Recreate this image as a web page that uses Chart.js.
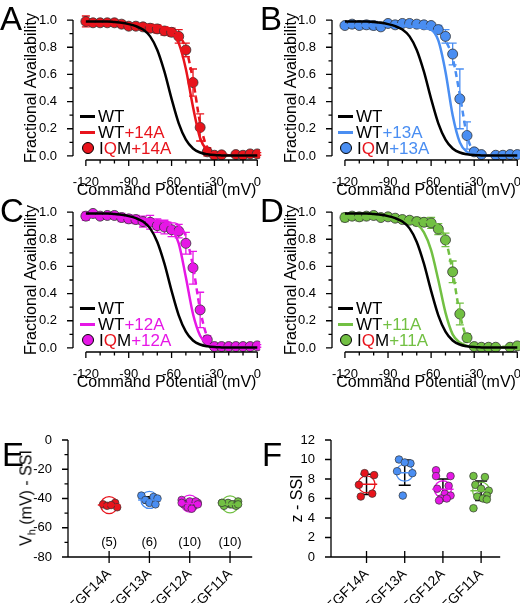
<!DOCTYPE html>
<html><head><meta charset="utf-8">
<script src="https://cdn.jsdelivr.net/npm/chart.js@4"></script>
<style>
body{margin:0;background:#fff;width:520px;height:603px;position:relative;overflow:hidden;font-family:"Liberation Sans",Arial,sans-serif}
canvas{position:absolute}
.lab{position:absolute;font-size:33px;line-height:33px;color:#000}
.leg{position:absolute;font-size:17px;line-height:17px;white-space:nowrap}
.ln{display:inline-block;width:15px;height:3px;vertical-align:middle;margin-right:3px;margin-top:-3px}
.dot{display:inline-block;width:10px;height:10px;border-radius:50%;border:1px solid #000;vertical-align:middle;margin:-3px 5px 0 0}
</style></head><body>
<script>
// ---------- data ----------
const V = [-120,-115,-110,-105,-100,-95,-90,-85,-80,-75,-70,-65,-60,-55,-50,-45,-40,-35,-30,-25,-20,-15,-10,-5,0];
const xTickLabels = [-120,-90,-60,-30,0];
const yTickLabels = [0,0.2,0.4,0.6,0.8,1.0];
const wtFit = [.99,.99,.99,.99,.985,.98,.97,.955,.93,.88,.78,.62,.42,.24,.12,.055,.025,.012,.006,.004,.003,.003,.003,.003,.003];

const fit14 = [.97,.97,.97,.97,.97,.97,.97,.97,.965,.96,.955,.94,.91,.83,.64,.36,.13,.04,.012,.006,.005,.005,.005,.005,.005];
const iqm14Fit = [.98,.98,.98,.98,.975,.975,.97,.97,.965,.96,.955,.95,.93,.89,.79,.56,.24,.06,.015,.007,.006,.006,.006,.006,.006];
const iqm14 = [.99,.98,.98,.98,.98,.97,.955,.955,.95,.94,.935,.92,.91,.88,.78,.54,.21,.03,.005,.008,null,.01,.005,.015,.015];
const iqm14Err = [.04,.02,.02,.02,.02,.02,.02,.02,.02,.03,.03,.03,.03,.05,.05,.1,.1,.03,.01,.01,null,.01,.01,.01,.01];

const fit13 = [.96,.96,.96,.96,.96,.96,.96,.96,.96,.955,.95,.94,.93,.85,.62,.3,.1,.03,.01,.005,.004,.004,.004,.004,.004];
const iqm13Fit = [.96,.96,.96,.96,.965,.965,.97,.97,.97,.97,.965,.96,.955,.93,.85,.72,.45,.15,.03,.01,.006,.006,.006,.006,.006];
const iqm13 = [.96,.97,.96,.965,.96,.95,.975,.965,.975,.975,.97,.965,.96,.93,.88,.75,.42,.15,.03,.01,null,.005,.005,.01,.01];
const iqm13Err = [.02,.02,.02,.03,.03,.02,.02,.02,.02,.02,.02,.02,.02,.03,.05,.08,.22,.1,.02,.01,null,.01,.01,.01,.01];

const fit12 = [.97,.97,.97,.97,.965,.96,.955,.95,.945,.94,.935,.93,.88,.77,.52,.25,.09,.03,.01,.005,.004,.004,.004,.004,.004];
const iqm12Fit = [.97,.97,.97,.97,.97,.965,.96,.955,.95,.945,.94,.93,.92,.9,.82,.6,.28,.08,.02,.01,.008,.008,.008,.008,.008];
const iqm12 = [.97,.99,.97,.975,.975,.96,.95,.945,.93,.925,.90,.89,.87,.86,.77,.59,.28,.06,.01,.01,.01,.01,.01,.01,.015];
const iqm12Err = [.03,.02,.02,.02,.02,.03,.03,.03,.04,.05,.05,.05,.05,.05,.08,.12,.13,.03,.01,.01,.01,.01,.01,.01,.01];

const fit11 = [.96,.96,.96,.96,.96,.955,.95,.945,.935,.925,.91,.85,.72,.5,.26,.1,.04,.015,.006,.004,.004,.004,.004,.004,.004];
const iqm11Fit = [.97,.97,.97,.97,.97,.965,.96,.955,.95,.945,.94,.93,.92,.9,.8,.56,.25,.07,.02,.01,.008,.008,.008,.008,.008];
const iqm11 = [.96,.97,.965,.97,.975,.96,.965,.955,.945,.94,.93,.925,.92,.875,.795,.56,.25,.075,.01,.005,.005,.005,null,.005,.015];
const iqm11Err = [.03,.02,.03,.02,.02,.02,.02,.02,.02,.02,.03,.03,.04,.04,.05,.08,.08,.03,.01,.01,.01,.01,null,.01,.01];

const groups = ["+FGF14A","+FGF13A","+FGF12A","+FGF11A"];
const groupColors = ["#e8141c","#4a8ef2","#e617e6","#72c043"];
const vhVals = [[-44,-43,-45,-46,-44.5],[-38,-39,-40,-41,-43,-44],[-41,-42,-43,-44,-45,-46,-47,-42,-43,-44],[-43,-44,-42,-45,-44,-43,-44,-45,-43,-44]];
const vhJit = [[-.15,.15,-.05,.2,.05],[-.2,.1,.2,-.1,0,.15],[-.2,0,.2,-.15,.1,-.05,.05,.15,-.2,.2],[-.2,0,.2,-.15,.1,-.05,.05,.15,-.2,.2]];
const vhMean = [-44.5,-41,-43.5,-44];
const vhSD = [1.2,2.2,2.0,1.0];
const zVals = [[8.6,8.4,7.4,6.5,6.2],[10.0,9.6,9.7,8.8,8.6,6.3],[8.9,8.3,8.3,7.3,7.0,6.5,6.3,6.0,6.0,5.8],[8.3,8.2,7.4,7.0,6.8,6.3,6.2,6.0,5.9,5.0]];
const zJit = [[-.05,.2,-.2,.15,-.15],[-.15,.15,0,-.2,.2,-.05],[-.18,-.18,.2,.15,-.15,.05,.2,-.05,.1,-.1],[-.2,.1,-.15,0,.2,.15,-.1,.05,.15,-.2]];
const zMean = [7.45,8.65,6.95,6.8];
const zSD = [1.05,1.3,1.05,1.0];

// ---------- helpers ----------
const FONT = "'Liberation Sans', Arial, sans-serif";
Chart.defaults.font.family = FONT;
Chart.defaults.color = "#000";
Chart.defaults.animation = false;

const errPlugin = {id:'err', beforeDatasetsDraw(ch){
  const c=ch.ctx;
  ch.data.datasets.forEach((ds,di)=>{
    if(!ds.errors) return;
    ds.data.forEach((p,i)=>{
      const e=ds.errors[i]; if(e==null||p==null) return;
      const x=ch.scales.x.getPixelForValue(p.x);
      const y1=ch.scales.y.getPixelForValue(p.y+e), y2=ch.scales.y.getPixelForValue(p.y-e);
      c.save(); c.strokeStyle=ds.errColor||ds.backgroundColor; c.lineWidth=ds.errWidth||1.3;
      const w=ds.capW||4;
      c.beginPath(); c.moveTo(x,y1); c.lineTo(x,y2);
      c.moveTo(x-w,y1); c.lineTo(x+w,y1); c.moveTo(x-w,y2); c.lineTo(x+w,y2); c.stroke(); c.restore();
    });
  });
}};
const axesPlugin = {id:'axes', afterDraw(ch, args, o){
  const c=ch.ctx, xs=ch.scales.x, ys=ch.scales.y, a=ch.chartArea;
  c.save(); c.strokeStyle="#000"; c.lineWidth=1.3;
  c.beginPath();
  const x0=xs.getPixelForValue(o.xr[0]), x1=xs.getPixelForValue(o.xr[1]);
  c.moveTo(x0,a.bottom); c.lineTo(x1,a.bottom);
  (o.xMaj||[]).forEach(v=>{const p=xs.getPixelForValue(v); c.moveTo(p,a.bottom+(o.xUp||0)); c.lineTo(p,a.bottom+6);});
  (o.xMin||[]).forEach(v=>{const p=xs.getPixelForValue(v); c.moveTo(p,a.bottom); c.lineTo(p,a.bottom+3.5);});
  const y0=ys.getPixelForValue(o.yr[0]), y1=ys.getPixelForValue(o.yr[1]);
  c.moveTo(a.left,y0); c.lineTo(a.left,y1);
  (o.yMaj||[]).forEach(v=>{const p=ys.getPixelForValue(v); c.moveTo(a.left,p); c.lineTo(a.left-6,p);});
  (o.yMin||[]).forEach(v=>{const p=ys.getPixelForValue(v); c.moveTo(a.left,p); c.lineTo(a.left-3.5,p);});
  c.stroke();
  if(o.nText){ c.fillStyle="#000"; c.font="13px "+FONT; c.textAlign="center"; c.textBaseline="middle";
    o.nText.forEach((t,i)=>c.fillText(t, xs.getPixelForValue(i+1), ys.getPixelForValue(o.nY))); }
  c.restore();
}};
function mkCanvas(l,t,w,h){const cv=document.createElement('canvas');cv.style.left=l+'px';cv.style.top=t+'px';cv.style.width=w+'px';cv.style.height=h+'px';cv.width=w;cv.height=h;document.body.appendChild(cv);return cv;}
function pts(arr){const out=[];V.forEach((v,i)=>{if(arr[i]!=null)out.push({x:v,y:arr[i]});});return out;}
function errs(arr,vals){return V.map((v,i)=>i).filter(i=>vals[i]!=null).map(i=>arr[i]);}

function ssiChart(l,t,color,fitArr,iqmFit,iqmPts,iqmErr,yAxW){
  const cv=mkCanvas(l,t,268-l%260,200);
  new Chart(cv,{type:'line',
    data:{datasets:[
      {data:pts(wtFit),borderColor:'#000',borderWidth:2.5,pointRadius:0,cubicInterpolationMode:'monotone'},
      {data:pts(fitArr),borderColor:color,borderWidth:2.5,pointRadius:0,cubicInterpolationMode:'monotone'},
      {data:pts(iqmFit),borderColor:color,borderWidth:2.5,borderDash:[6,4],pointRadius:0,cubicInterpolationMode:'monotone'},
      {data:pts(iqmPts),errors:errs(iqmErr,iqmPts),showLine:false,backgroundColor:color,borderColor:'#333',borderWidth:0.8,pointRadius:5}
    ]},
    options:{responsive:false,devicePixelRatio:1,layout:{padding:{top:16,right:0,left:0,bottom:0}},
      plugins:{legend:{display:false},tooltip:{enabled:false},
        axes:{xr:[-120,0],yr:[0,1],xMaj:xTickLabels,xMin:[-110,-100,-80,-70,-50,-40,-20,-10],yMaj:yTickLabels,yMin:[.1,.3,.5,.7,.9]}},
      scales:{
        x:{type:'linear',min:-129,max:2,grid:{display:false},border:{display:false},
          afterBuildTicks:s=>{s.ticks=xTickLabels.map(v=>({value:v}));},
          ticks:{font:{size:13},padding:7,maxRotation:0},
          title:{display:true,text:'Command Potential (mV)',font:{size:16},padding:{top:3,bottom:0}},
          afterFit:s=>{s.height=40;}},
        y:{min:-0.03,max:1.03,grid:{display:false},border:{display:false},
          afterBuildTicks:s=>{s.ticks=yTickLabels.map(v=>({value:v}));},
          ticks:{font:{size:13},padding:8,callback:v=>v.toFixed(1)},
          title:{display:true,text:'Fractional Availability',font:{size:16},padding:{top:0,bottom:2}},
          afterFit:s=>{s.width=yAxW;}}
      }},
    plugins:[errPlugin,axesPlugin]});
}
ssiChart(22,0,groupColors[0],fit14,iqm14Fit,iqm14,iqm14Err,51);
ssiChart(282,0,groupColors[1],fit13,iqm13Fit,iqm13,iqm13Err,50);
ssiChart(22,192,groupColors[2],fit12,iqm12Fit,iqm12,iqm12Err,51);
ssiChart(282,192,groupColors[3],fit11,iqm11Fit,iqm11,iqm11Err,50);

function dotChart(l,t,w,vals,jit,mean,sd,yr,yMaj,yMin,xmin,xmax,yAxW,ytitle,nY){
  const cv=mkCanvas(l,t,w,203);
  const ds=[];
  vals.forEach((g,gi)=>{
    ds.push({type:'line',data:[{x:gi+1-.28,y:mean[gi]},{x:gi+1+.28,y:mean[gi]}],borderColor:groupColors[gi],borderWidth:1.5,pointRadius:0});
    ds.push({type:'scatter',data:g.map((v,i)=>({x:gi+1+jit[gi][i],y:v})),backgroundColor:groupColors[gi],borderColor:'#333',borderWidth:0.7,pointRadius:3.8});
    ds.push({type:'scatter',data:[{x:gi+1,y:mean[gi]}],errors:[sd[gi]],errColor:'#000',errWidth:1.5,capW:6,backgroundColor:'rgba(0,0,0,0)',borderColor:groupColors[gi],borderWidth:1.3,pointRadius:8.5});
  });
  new Chart(cv,{type:'scatter',data:{datasets:ds},
    options:{responsive:false,devicePixelRatio:1,layout:{padding:{top:40,right:0,left:0,bottom:0}},
      plugins:{legend:{display:false},tooltip:{enabled:false},
        axes:{xr:[xmin,xmax],yr:yr,xMaj:[1,2,3,4],xUp:-6,yMaj:yMaj,yMin:yMin,nText:nY!=null?vals.map(g=>'('+g.length+')'):null,nY:nY}},
      scales:{
        x:{type:'linear',min:xmin,max:xmax,grid:{display:false},border:{display:false},
          afterBuildTicks:s=>{s.ticks=[1,2,3,4].map(v=>({value:v}));},
          ticks:{font:{size:14},padding:1,minRotation:45,maxRotation:45,callback:v=>groups[v-1]},
          afterFit:s=>{s.height=46;}},
        y:{min:yr[0],max:yr[1],grid:{display:false},border:{display:false},
          afterBuildTicks:s=>{s.ticks=yMaj.map(v=>({value:v}));},
          ticks:{font:{size:13},padding:8},
          title:{display:ytitle!=null,text:ytitle||'',font:{size:16},padding:{top:0,bottom:2}},
          afterFit:s=>{s.width=yAxW;}}
      }},
    plugins:[errPlugin,axesPlugin]});
}
dotChart(0,400,262,vhVals,vhJit,vhMean,vhSD,[-80,0],[-80,-60,-40,-20,0],[-70,-50,-30,-10],-0.02,4.55,68,null,-70);
dotChart(288,400,222,zVals,zJit,zMean,zSD,[0,12],[0,2,4,6,8,10,12],[],0.07,4.5,43,'z - SSI',null);

// ---------- HTML overlays ----------
function div(cls,l,t,html,extra){const d=document.createElement('div');d.className=cls;d.style.left=l+'px';d.style.top=t+'px';d.innerHTML=html;if(extra)d.style.cssText+=extra;document.body.appendChild(d);}
[['A',0,2],['B',260,2],['C',0,194],['D',260,194],['E',2,438],['F',262,438]].forEach(a=>div('lab',a[1],a[2],a[0]));
const legNames=['14A','13A','12A','11A'];
[[80,108],[338,108],[80,300],[338,300]].forEach((p,i)=>{
  const c=groupColors[i];
  div('leg',p[0],p[1],'<span class="ln" style="background:#000"></span>WT');
  div('leg',p[0],p[1]+16,'<span class="ln" style="background:'+c+'"></span>WT<span style="color:'+c+'">+'+legNames[i]+'</span>');
  div('leg',p[0]+2,p[1]+32,'<span class="dot" style="background:'+c+'"></span>I<span style="color:#e8141c">Q</span>M<span style="color:'+c+'">+'+legNames[i]+'</span>');
});
div('leg',29,498,'V<sub style="font-size:11px">h</sub> (mV) - SSI','transform:translate(-50%,-50%) rotate(-90deg);font-size:16px;');
</script>
</body></html>
